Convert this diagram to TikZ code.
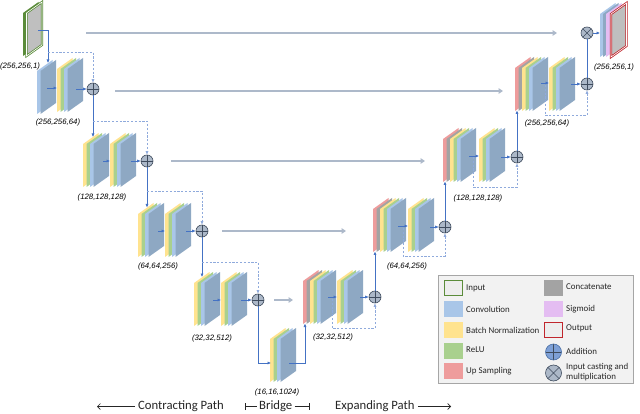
\documentclass[tikz,border=0pt]{standalone}
\usepackage{fontspec}
\setmainfont{Carlito}
\newfontfamily\dimfont{Liberation Sans}
\usetikzlibrary{arrows.meta}
\definecolor{cY}{HTML}{FFE38F}
\definecolor{cG}{HTML}{A9D08E}
\definecolor{cBl}{HTML}{A9C6E8}
\definecolor{cBf}{HTML}{8EA8C3}
\definecolor{cR}{HTML}{EE9C9C}
\definecolor{cGr}{HTML}{A3A3A3}
\definecolor{cLav}{HTML}{E4BDF2}
\definecolor{cFace}{HTML}{BFBFBF}
\definecolor{cInG}{HTML}{5B8C3A}
\definecolor{cOutR}{HTML}{C0262D}
\definecolor{cArr}{HTML}{4472C4}
\definecolor{cDash}{HTML}{8FAADC}
\definecolor{cSkip}{HTML}{ADB9CA}
\definecolor{cAddF}{HTML}{ACB8C8}
\definecolor{cAddD}{HTML}{3F4C5E}
\definecolor{cLegF}{HTML}{F2F2F2}
\definecolor{cLegD}{HTML}{A6A6A6}
\definecolor{cTxt}{HTML}{262626}
\definecolor{cLegAdd}{HTML}{7EA0D6}
\definecolor{cLegAddD}{HTML}{4A6FA5}
\definecolor{cSwF}{HTML}{EDEDED}
\def\pW{15.5}\def\pS{11}\def\pH{43}\def\pD{3.5}
\newcommand\mylay[3]{\path[#3] (#1,#2+\pS) -- (#1+\pW,#2) -- (#1+\pW,#2+\pH) -- (#1,#2+\pH+\pS) -- cycle;}
\newcommand\stkE[2]{\mylay{#1}{#2}{fill=cY}\mylay{#1+\pD}{#2}{fill=cG}\mylay{#1+2*\pD}{#2}{fill=cBl}\mylay{#1+3*\pD}{#2}{fill=cBf}}
\newcommand\stkD[2]{\mylay{#1}{#2}{fill=cR}\mylay{#1+\pD}{#2}{fill=cGr}\mylay{#1+2*\pD}{#2}{fill=cY}\mylay{#1+3*\pD}{#2}{fill=cG}\mylay{#1+4*\pD}{#2}{fill=cBl}\mylay{#1+5*\pD}{#2}{fill=cBf}}
\tikzset{
 barrow/.style={draw=cArr, line width=0.9pt, -{Latex[length=3.5pt,width=3.2pt]}},
 dskip/.style={draw=cDash, line width=0.8pt, dash pattern=on 2.2pt off 1.6pt, -{Latex[length=3.5pt,width=3.2pt]}},
 gskip/.style={draw=cSkip, line width=1.8pt, -{Triangle[length=4.5pt,width=5.5pt]}},
 addc/.style={circle, inner sep=0pt, minimum size=12pt, fill=cAddF, draw=cAddD, line width=0.6pt,
   path picture={\draw[cAddD, line width=0.6pt] (path picture bounding box.north) -- (path picture bounding box.south) (path picture bounding box.west) -- (path picture bounding box.east);}},
 mulc/.style={circle, inner sep=0pt, minimum size=12pt, fill=cAddF, draw=cAddD, line width=0.6pt,
   path picture={\draw[cAddD, line width=0.6pt] (path picture bounding box.north west) -- (path picture bounding box.south east) (path picture bounding box.south west) -- (path picture bounding box.north east);}},
 dim/.style={font=\dimfont\itshape\fontsize{7.8}{9}\selectfont, text=black, inner sep=0pt},
 leg/.style={font=\fontsize{8.9}{10}\selectfont, text=cTxt, anchor=west, inner sep=0pt, align=left},
 btm/.style={font=\fontsize{12.7}{14}\selectfont, text=cTxt, anchor=west, inner sep=0pt},
 sw/.style={minimum width=19pt, minimum height=16pt, inner sep=0pt},
 barr/.style={draw=cTxt, line width=0.6pt},
}
\begin{document}
\begin{tikzpicture}[x=1pt,y=-1pt]
\useasboundingbox (0,0) rectangle (640,414);
\fill[white] (0,0) rectangle (640,414);

% ---------- skip (gray) connections ----------
\coordinate (g0a) at (86,33);  \coordinate (g0b) at (557,33);
\coordinate (g1a) at (115,91); \coordinate (g1b) at (503,91);
\coordinate (g2a) at (171,161); \coordinate (g2b) at (425,161);
\coordinate (g3a) at (222,231); \coordinate (g3b) at (346,231);
\coordinate (g4a) at (274,300); \coordinate (g4b) at (293,300);
\draw[gskip] (g0a) -- (g0b);
\draw[gskip] (g1a) -- (g1b);
\draw[gskip] (g2a) -- (g2b);
\draw[gskip] (g3a) -- (g3b);
\draw[gskip] (g4a) -- (g4b);

% ---------- input ----------
\mylay{23}{2}{fill=cInG}
\mylay{26.5}{2}{fill=cFace, draw=cInG, line width=0.8pt, double=white, double distance=0.6pt}
\node[dim] (d0) at (20,66) {(256,256,1)};

% ---------- encoder level 0 ----------
\mylay{37}{60}{fill=cBl}\mylay{40.5}{60}{fill=cBf}
\stkE{57}{58}
\node[addc] (a0) at (93,89) {};
\node[dim] (d1) at (58,122) {(256,256,64)};

% ---------- encoder level 1 ----------
\stkE{83}{133}\stkE{110}{133}
\node[addc] (a1) at (147,161) {};
\node[dim] (d2) at (102,197) {(128,128,128)};

% ---------- encoder level 2 ----------
\stkE{138}{203}\stkE{165}{203}
\node[addc] (a2) at (202,231) {};
\node[dim] (d3) at (158,266) {(64,64,256)};

% ---------- encoder level 3 ----------
\stkE{194}{272}\stkE{221}{272}
\node[addc] (a3) at (258,300) {};
\node[dim] (d4) at (212,338) {(32,32,512)};

% ---------- bridge ----------
\stkE{270}{328}
\node[dim] (d5) at (277,392) {(16,16,1024)};

% ---------- decoder level 3 ----------
\stkD{303}{270}\stkE{337}{270}
\node[addc] (a4) at (375,297) {};
\node[dim] (d6) at (333,337) {(32,32,512)};

% ---------- decoder level 2 ----------
\stkD{373}{198}\stkE{408}{198}
\node[addc] (a5) at (445,227) {};
\node[dim] (d7) at (407,266) {(64,64,256)};

% ---------- decoder level 1 ----------
\stkD{443}{128}\stkE{479}{128}
\node[addc] (a6) at (517,157) {};
\node[dim] (d8) at (478,198) {(128,128,128)};

% ---------- decoder level 0 ----------
\stkD{515}{57}\stkE{549}{57}
\node[addc] (a7) at (587,84) {};
\node[dim] (d9) at (547,123) {(256,256,64)};

% ---------- output ----------
\node[mulc] (m0) at (587,33) {};
\mylay{600}{3}{fill=cBl}\mylay{603}{3}{fill=cBf}\mylay{606}{3}{fill=cLav}
\mylay{611}{3}{fill=cFace, draw=cOutR, line width=0.8pt, double=white, double distance=0.6pt}
\node[dim] (d10) at (614,67) {(256,256,1)};

% ---------- blue / dashed connectors ----------
% level 0
\coordinate (in0) at (38,30); \coordinate (c0top) at (48,63);
\draw[barrow] (in0) -| (c0top);
\coordinate (s0) at (48,52); \draw[dskip] (s0) -| (a0.north);
\coordinate (p0a) at (47,88); \coordinate (p0b) at (57,88);
\draw[barrow] (p0a) -- (p0b);
\coordinate (p0c) at (76,89); \draw[barrow] (p0c) -- (a0.west);
\coordinate (e1top) at (93,137); \draw[barrow] (a0.south) -- (e1top);
% level 1
\coordinate (s1) at (93,121); \draw[dskip] (s1) -| (a1.north);
\coordinate (p1a) at (103,161); \coordinate (p1b) at (110,161);
\draw[barrow] (p1a) -- (p1b);
\coordinate (p1c) at (131,161); \draw[barrow] (p1c) -- (a1.west);
\coordinate (e2top) at (147,207.5); \draw[barrow] (a1.south) -- (e2top);
% level 2
\coordinate (s2) at (147,191); \draw[dskip] (s2) -| (a2.north);
\coordinate (p2a) at (158,231); \coordinate (p2b) at (165,231);
\draw[barrow] (p2a) -- (p2b);
\coordinate (p2c) at (186,231); \draw[barrow] (p2c) -- (a2.west);
\coordinate (e3top) at (202,277); \draw[barrow] (a2.south) -- (e3top);
% level 3
\coordinate (s3) at (202,262); \draw[dskip] (s3) -| (a3.north);
\coordinate (p3a) at (213,300); \coordinate (p3b) at (221,300);
\draw[barrow] (p3a) -- (p3b);
\coordinate (p3c) at (241,300); \draw[barrow] (p3c) -- (a3.west);
\coordinate (brin) at (271,363); \draw[barrow] (a3.south) |- (brin);
% bridge out
\coordinate (brout) at (289,363); \coordinate (u4bot) at (305,323.5);
\draw[barrow] (brout) -| (u4bot);
% decoder level 3
\coordinate (q4a) at (328,297); \coordinate (q4b) at (337,297);
\draw[barrow] (q4a) -- (q4b);
\coordinate (q4c) at (360,297); \draw[barrow] (q4c) -- (a4.west);
\coordinate (t4a) at (332,299); \coordinate (t4b) at (332,328);
\draw[dskip] (t4a) -- (t4b) -| (a4.south);
\coordinate (u3bot) at (375,251.5); \draw[barrow] (a4.north) -- (u3bot);
% decoder level 2
\coordinate (q3a) at (398,226); \coordinate (q3b) at (408,226);
\draw[barrow] (q3a) -- (q3b);
\coordinate (q3c) at (430,227); \draw[barrow] (q3c) -- (a5.west);
\coordinate (t3a) at (403,228); \coordinate (t3b) at (403,256);
\draw[dskip] (t3a) -- (t3b) -| (a5.south);
\coordinate (u2bot) at (445,181.5); \draw[barrow] (a5.north) -- (u2bot);
% decoder level 1
\coordinate (q2a) at (469,156); \coordinate (q2b) at (479,156);
\draw[barrow] (q2a) -- (q2b);
\coordinate (q2c) at (501,157); \draw[barrow] (q2c) -- (a6.west);
\coordinate (t2a) at (473,157); \coordinate (t2b) at (473,187);
\draw[dskip] (t2a) -- (t2b) -| (a6.south);
\coordinate (u1bot) at (517,110.5); \draw[barrow] (a6.north) -- (u1bot);
% decoder level 0
\coordinate (q1a) at (541,83); \coordinate (q1b) at (549,83);
\draw[barrow] (q1a) -- (q1b);
\coordinate (q1c) at (571,84); \draw[barrow] (q1c) -- (a7.west);
\coordinate (t1a) at (545,85); \coordinate (t1b) at (545,115);
\draw[dskip] (t1a) -- (t1b) -| (a7.south);
\draw[barrow, -] (a7.north) -- (m0.south);
\coordinate (outin) at (600,33); \draw[barrow] (m0.east) -- (outin);

% ---------- legend ----------
\node[draw=cLegD, fill=cLegF, line width=0.6pt, minimum width=195pt, minimum height=108pt, inner sep=0pt, anchor=north west] (legend) at (438,275) {};
\node[sw, fill=cSwF, draw=cInG, line width=1.3pt, minimum width=17.5pt, minimum height=14.5pt] (sIn) at (453.5,288) {};
\node[sw, fill=cBl] (sConv) at (453.5,309) {};
\node[sw, fill=cY] (sBN) at (453.5,330) {};
\node[sw, fill=cG] (sRelu) at (453.5,351) {};
\node[sw, fill=cR] (sUp) at (453.5,371) {};
\node[leg] (tIn) at (466,288) {Input};
\node[leg] (tConv) at (466,309) {Convolution};
\node[leg] (tBN) at (466,330) {Batch Normalization};
\node[leg] (tRelu) at (466,350) {ReLU};
\node[leg] (tUp) at (466,371) {Up Sampling};
\node[sw, fill=cGr] (sCat) at (553.5,288) {};
\node[sw, fill=cLav] (sSig) at (553.5,309) {};
\node[sw, fill=cSwF, draw=cOutR, line width=1.3pt, minimum width=17.5pt, minimum height=14.5pt] (sOut) at (553.5,330) {};
\node[addc, minimum size=16pt, fill=cLegAdd, draw=cLegAddD] (sAdd) at (553.5,352) {};
\node[mulc, minimum size=16pt] (sMul) at (553.5,373) {};
\node[leg] (tCat) at (566,287) {Concatenate};
\node[leg] (tSig) at (566,309) {Sigmoid};
\node[leg] (tOut) at (566,328) {Output};
\node[leg] (tAdd) at (566,351) {Addition};
\node[leg] (tMul) at (566,372) {Input casting and\\multiplication};

% ---------- bottom labels ----------
\node[btm] (cp) at (138,406) {Contracting Path};
\coordinate (cpL) at (97,406.5);
\draw[barr, -{Straight Barb[length=3pt,width=6pt]}] ([xshift=-3pt,yshift=-0.5pt]cp.west) -- (cpL);
\node[btm] (br) at (259,406) {Bridge};
\coordinate (brL) at (245,406.5); \coordinate (brR) at (310,406.5);
\draw[barr, {Bar[width=7pt]}-] (brL) -- ([xshift=-2pt,yshift=-0.5pt]br.west);
\draw[barr, -{Bar[width=7pt]}] ([xshift=2pt,yshift=-0.5pt]br.east) -- (brR);
\node[btm] (ep) at (335,406) {Expanding Path};
\coordinate (epR) at (451,406.5);
\draw[barr, -{Straight Barb[length=3pt,width=6pt]}] ([xshift=3pt,yshift=-0.5pt]ep.east) -- (epR);
\end{tikzpicture}
\end{document}
